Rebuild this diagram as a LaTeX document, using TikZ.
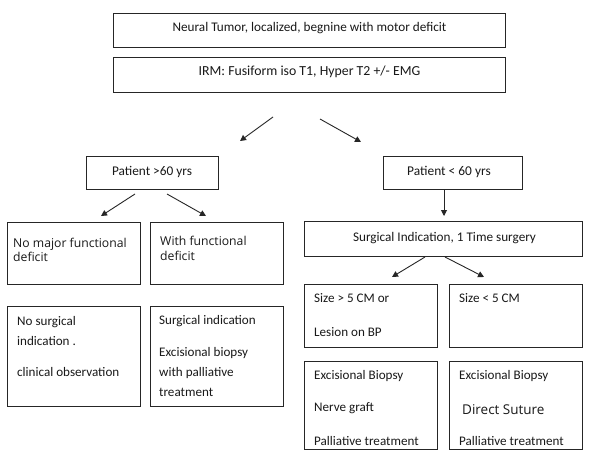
\documentclass[tikz,border=0pt]{standalone}
\usepackage{fontspec}
\setmainfont{Carlito}
\newfontfamily\altfont{Open Sans}
\usetikzlibrary{arrows.meta}
\newcommand\fs[1]{\fontsize{#1}{#1}\selectfont}
\begin{document}
\begin{tikzpicture}[x=1pt,y=-1pt,
  box/.style={draw=black!85,line width=0.9pt,inner sep=0,outer sep=0},
  txt/.style={inner sep=0,anchor=west,text height=6.5pt,text depth=0pt,font=\fs{13.1},text=black!90},
  ctxt/.style={txt,anchor=center},
  otxt/.style={txt,font=\altfont\fs{12.2}},
  arr/.style={draw=black!85,line width=0.9pt,-{Triangle[length=6pt,width=6pt]}}]
\useasboundingbox[fill=white] (0,0) rectangle (593,460);
% boxes
\node[box,minimum width=392,minimum height=34] (b1) at (309,30) {};
\node[box,minimum width=392,minimum height=35] (b2) at (309,74.5) {};
\node[box,minimum width=132,minimum height=33] (p60) at (152,172.5) {};
\node[box,minimum width=139,minimum height=33] (pl60) at (452.5,172.5) {};
\node[box,minimum width=133,minimum height=62] (nomaj) at (73.5,253) {};
\node[box,minimum width=133,minimum height=62] (withf) at (216.5,253) {};
\node[box,minimum width=133,minimum height=100] (nosurg) at (73.5,356) {};
\node[box,minimum width=133,minimum height=100] (surgind) at (216.5,356) {};
\node[box,minimum width=278,minimum height=35] (si) at (443,238.5) {};
\node[box,minimum width=133,minimum height=63] (big) at (370.5,315.5) {};
\node[box,minimum width=133,minimum height=63] (small) at (515.5,315.5) {};
\node[box,minimum width=133,minimum height=88] (eb1) at (370.5,405) {};
\node[box,minimum width=133,minimum height=88] (eb2) at (515.5,405) {};
% texts
\node[ctxt,font=\fs{13.2}] (t1) at (309.5,28) {Neural Tumor, localized, begnine with motor deficit};
\node[ctxt,font=\fs{13.8}] (t2) at (309.5,72) {IRM: Fusiform iso T1, Hyper T2 +/- EMG};
\node[ctxt,font=\fs{13.3}] (t3) at (152,172) {Patient >60 yrs};
\node[ctxt,font=\fs{13.4}] (t4) at (449,172) {Patient < 60 yrs};
\node[ctxt,font=\fs{13.2}] (t5) at (444.5,238) {Surgical Indication, 1 Time surgery};
\node[otxt] (t6) at (13,244) {No major functional};
\node[otxt] (t7) at (13,258) {deficit};
\node[otxt] (t8) at (160,242) {With functional};
\node[otxt] (t9) at (160,257) {deficit};
\node[txt] (t10) at (17,322) {No surgical};
\node[txt] (t11) at (17,342) {indication .};
\node[txt] (t12) at (17,373) {clinical observation};
\node[txt] (t13) at (159,321) {Surgical indication};
\node[txt] (t14) at (159,353) {Excisional biopsy};
\node[txt] (t15) at (159,373) {with palliative};
\node[txt] (t16) at (159,393) {treatment};
\node[txt] (t17) at (314,299) {Size > 5 CM or};
\node[txt] (t18) at (314,333) {Lesion on BP};
\node[txt] (t19) at (459,299) {Size < 5 CM};
\node[txt] (t20) at (314,376) {Excisional Biopsy};
\node[txt] (t21) at (314,408) {Nerve graft};
\node[txt] (t22) at (314,442) {Palliative treatment};
\node[txt] (t23) at (459,376) {Excisional Biopsy};
\node[txt,font=\altfont\fs{13.5}] (t24) at (462,411) {Direct Suture};
\node[txt] (t25) at (459,442) {Palliative treatment};
% arrow ends
\coordinate (a1s) at (273,117); \coordinate (a1e) at (240,141);
\coordinate (a2s) at (320,119); \coordinate (a2e) at (361,142);
\coordinate (a3s) at (135,194); \coordinate (a3e) at (101,216);
\coordinate (a4s) at (167,194); \coordinate (a4e) at (206,216);
\coordinate (a5e) at (444,216);
\coordinate (a6s) at (425,257); \coordinate (a6e) at (392,277);
\coordinate (a7s) at (445,257); \coordinate (a7e) at (484,277);
\draw[arr] (a1s) -- (a1e);
\draw[arr] (a2s) -- (a2e);
\draw[arr] (a3s) -- (a3e);
\draw[arr] (a4s) -- (a4e);
\draw[arr] (pl60.south -| a5e) -- (a5e);
\draw[arr] (a6s) -- (a6e);
\draw[arr] (a7s) -- (a7e);
\end{tikzpicture}
\end{document}
